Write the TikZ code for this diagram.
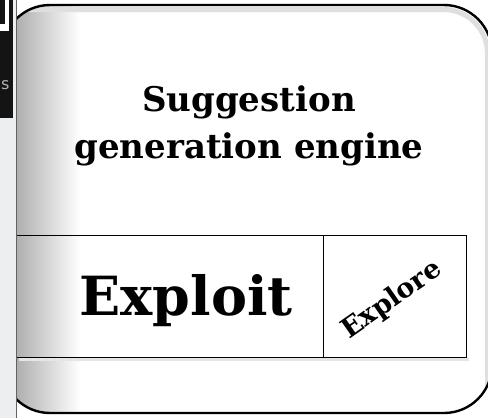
\documentclass[tikz,border=0pt]{standalone}
\usepackage{fontspec}
\setmainfont{DejaVu Serif}
\setsansfont{DejaVu Sans}
\definecolor{stripbg}{RGB}{236,238,240}
\definecolor{stripline}{RGB}{90,100,110}
\begin{document}
\begin{tikzpicture}[x=1pt,y=-1pt,
  frame/.style={draw=black, line width=2.4pt, rounded corners=48pt},
  cell/.style={draw=black, line width=1.4pt, minimum height=122pt, inner sep=0pt, anchor=north west},
  titletext/.style={font=\bfseries\fontsize{34}{47}\selectfont, align=center, anchor=base},
  bigtext/.style={font=\bfseries\fontsize{54}{54}\selectfont, anchor=base},
  smalltext/.style={font=\bfseries\fontsize{27}{27}\selectfont, inner sep=0pt}]
\useasboundingbox (0,0) rectangle (488,418);
% cropped strip on the left
\fill[stripbg] (0,0) rectangle (17,418);
\fill[black!92] (0,0) rectangle (13,118);
\fill[white] (0,0) rectangle (9,31);
\fill[black!92] (0,0) rectangle (5,24);
\begin{scope}
  \clip (0,0) rectangle (13,118);
  \node[font=\sffamily\fontsize{16}{16}\selectfont, text=gray!60, anchor=base west, inner sep=0pt] (strips) at (1,89) {s};
\end{scope}
\draw[stripline, line width=0.8pt] (16.5,0) -- (16.5,418);
% main frame
\begin{scope}
  \clip (17,0) rectangle (488,418);
  \fill[white, rounded corners=48pt] (2,5) rectangle (492,413);
  \begin{scope}
    \clip[rounded corners=48pt] (2,5) rectangle (492,413);
    \shade[left color=gray!62, right color=white] (17,0) rectangle (80,418);
    \draw[gray!25, line width=5pt, rounded corners=44pt] (5,9.5) -- (487.5,9.5) -- (487.5,418);
  \end{scope}
  \draw[frame] (2,5) rectangle (492,413);
  % cells
  \fill[gray!20] (19,358) rectangle (469,361);
  \node[cell, minimum width=321pt] (exploitbox) at (2,235) {};
  \node[cell, minimum width=143pt] (explorebox) at (323,235) {};
\end{scope}
\node[titletext] (title) at (249,158) {Suggestion\\generation engine};
\node[bigtext] (exploit) at (186,315) {Exploit};
\node[smalltext, rotate=35] (explore) at (392,300) {Explore};
\end{tikzpicture}
\end{document}
